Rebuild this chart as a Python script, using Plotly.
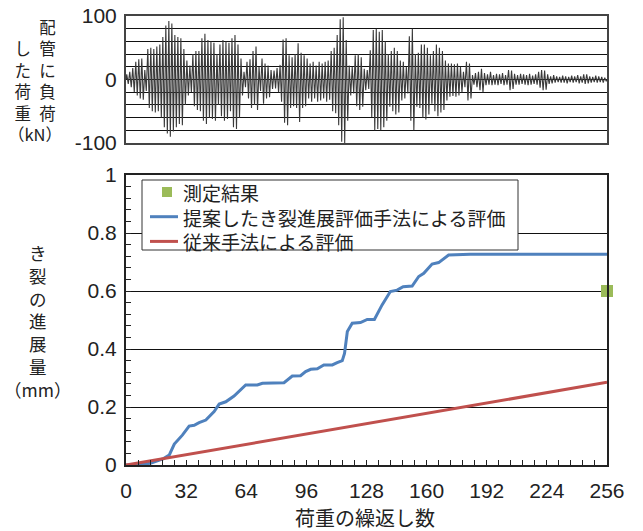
import plotly.graph_objects as go

W, H = 643, 531

# ---- Top panel: load history (peak values per cycle, kN) ----
load_pos = [8, 12, 18, 28, 32, 33, 15, 48, 50, 48,
            52, 55, 67, 85, 92, 88, 70, 67, 65, 48,
            30, 22, 40, 45, 45, 65, 72, 62, 60, 58,
            40, 55, 62, 60, 58, 65, 70, 55, 33, 12,
            28, 32, 45, 52, 20, 33, 25, 22, 15, 14,
            18, 23, 63, 65, 38, 35, 40, 57, 42, 38,
            33, 25, 28, 22, 28, 25, 28, 30, 45, 50,
            70, 95, 98, 62, 22, 20, 38, 40, 35, 17,
            15, 46, 78, 80, 75, 78, 60, 40, 45, 50,
            45, 30, 28, 20, 68, 80, 40, 42, 55, 55,
            50, 38, 45, 55, 50, 45, 30, 25, 25, 24,
            25, 20, 12, 28, 25, 7, 10, 12, 17, 10,
            8, 12, 7, 9, 8, 10, 7, 15, 14, 9,
            7, 9, 8, 7, 9, 6, 8, 12, 15, 14,
            8, 5, 7, 5, 4, 6, 5, 4, 6, 5,
            7, 5, 8, 8, 5, 4, 6, 5, 4, 3]
load_neg = [-7, -12, -20, -25, -30, -32, -18, -45, -50, -52,
            -50, -60, -75, -85, -90, -82, -75, -70, -72, -40,
            -25, -20, -42, -48, -50, -65, -70, -60, -62, -65,
            -40, -58, -65, -62, -50, -75, -78, -60, -25, -12,
            -30, -45, -40, -48, -18, -38, -30, -28, -15, -14,
            -20, -35, -68, -72, -45, -42, -45, -67, -45, -42,
            -30, -35, -30, -35, -33, -30, -35, -32, -50, -53,
            -72, -98, -100, -65, -25, -22, -42, -48, -43, -17,
            -15, -59, -80, -78, -80, -75, -65, -43, -50, -55,
            -52, -33, -30, -22, -65, -80, -43, -45, -60, -63,
            -55, -38, -50, -58, -52, -48, -33, -27, -26, -27,
            -25, -20, -12, -33, -30, -8, -12, -17, -20, -9,
            -8, -9, -8, -9, -7, -9, -8, -17, -15, -8,
            -8, -7, -8, -9, -8, -7, -8, -13, -17, -16,
            -7, -6, -5, -4, -5, -5, -6, -4, -5, -4,
            -6, -5, -7, -6, -5, -4, -5, -4, -5, -3]
load_ticks = [-100, 0, 100]
load_ticktext = ["-100", "0", "100"]

# ---- Bottom panel: crack growth (mm) vs load cycles ----
prop_x = [0, 8, 13, 17, 20, 23, 25.7, 30, 33.6, 36.3, 38.9, 42.5, 46.9, 49.6,
          53.1, 57.5, 60.2, 63.7, 69.9, 72.6, 84.1, 88.5, 92.9, 95.6, 98.3,
          101.8, 105.3, 109.8, 112.4, 115.1, 116.3, 117.8, 120.4, 124.8, 128.4,
          132.2, 136.3, 140.7, 144.3, 147.5, 152.3, 155.8, 158.5, 162.9, 166.4,
          171.7, 183.2, 256]
prop_y = [0, 0.002, 0.006, 0.014, 0.022, 0.034, 0.072, 0.103, 0.134, 0.137,
          0.146, 0.155, 0.184, 0.210, 0.218, 0.238, 0.256, 0.276, 0.276, 0.282,
          0.284, 0.307, 0.308, 0.322, 0.330, 0.332, 0.345, 0.345, 0.353, 0.360,
          0.385, 0.460, 0.489, 0.491, 0.502, 0.502, 0.552, 0.598, 0.603, 0.615,
          0.617, 0.650, 0.661, 0.693, 0.698, 0.724, 0.727, 0.727]
conv_x = [0, 256]
conv_y = [0, 0.285]
meas_x = [256]
meas_y = [0.6]

x_ticks = [0, 32, 64, 96, 128, 160, 192, 224, 256]

names = ["測定結果", "提案したき裂進展評価手法による評価", "従来手法による評価"]
colors = ["#9BBB59", "#4F81BD", "#C0504D"]

# zig-zag load signal from the peak lists
sig_x, sig_y = [0], [0]
for i, (p, n) in enumerate(zip(load_pos, load_neg)):
    sig_x += [i + 0.25, i + 0.75]
    sig_y += [p, n]
sig_x.append(len(load_pos))
sig_y.append(0)

NUM_FONT = "Liberation Sans, Arial, sans-serif"
JP_FONT = "Noto Sans CJK JP, sans-serif"
TXT = "#222222"


def px(x):
    return x / W


def py(y):
    return 1 - y / H


fig = go.Figure()

fig.add_trace(go.Scatter(x=sig_x, y=sig_y, mode="lines",
                         line=dict(color="#3a3a3a", width=1.1),
                         xaxis="x2", yaxis="y2", showlegend=False,
                         hoverinfo="skip"))

fig.add_trace(go.Scatter(x=meas_x, y=meas_y, mode="markers", name=names[0],
                         marker=dict(symbol="square", size=12, color=colors[0]),
                         cliponaxis=False, showlegend=False))
fig.add_trace(go.Scatter(x=prop_x, y=prop_y, mode="lines", name=names[1],
                         line=dict(color=colors[1], width=3), showlegend=False))
fig.add_trace(go.Scatter(x=conv_x, y=conv_y, mode="lines", name=names[2],
                         line=dict(color=colors[2], width=3), showlegend=False))

xdom = [px(126), px(607)]

fig.update_layout(
    width=W, height=H,
    margin=dict(l=0, r=0, t=0, b=0),
    paper_bgcolor="white", plot_bgcolor="white",
    template="none",
    font=dict(family=NUM_FONT, size=21, color=TXT),
    showlegend=False,
    xaxis=dict(domain=xdom, anchor="y", range=[0, 256],
               tickvals=x_ticks, ticks="inside", ticklen=5, tickcolor=TXT,
               minor=dict(dtick=6.4, tick0=0, ticks="inside", ticklen=5, tickcolor=TXT),
               showgrid=False, zeroline=False,
               showline=True, mirror=True, linecolor=TXT, linewidth=2,
               tickfont=dict(size=21, family=NUM_FONT, color=TXT),
               ticklabelstandoff=6, ticklabeloverflow="allow",
               automargin=False),
    yaxis=dict(domain=[py(465), py(175)], anchor="x", range=[0, 1],
               dtick=0.2, tick0=0, ticks="inside", ticklen=5, tickcolor=TXT,
               minor=dict(dtick=0.04, tick0=0, ticks="inside", ticklen=5, tickcolor=TXT),
               showgrid=True, gridcolor="#111111", gridwidth=1,
               zeroline=False,
               showline=True, mirror=True, linecolor=TXT, linewidth=2,
               tickfont=dict(size=21, family=NUM_FONT, color=TXT),
               ticklabelstandoff=3, ticklabeloverflow="allow",
               automargin=False),
    xaxis2=dict(domain=xdom, anchor="y2", range=[0, len(load_pos)],
                showticklabels=False, ticks="", showgrid=False, zeroline=False,
                showline=True, mirror=True, linecolor="#444444", linewidth=2,
                automargin=False),
    yaxis2=dict(domain=[py(143), py(16)], anchor="x2", range=[-100, 100],
                tickvals=load_ticks, ticktext=load_ticktext,
                ticks="", showgrid=True, gridcolor="#111111", gridwidth=1,
                minor=dict(dtick=20, tick0=0, showgrid=True,
                           gridcolor="#111111", gridwidth=1),
                zeroline=False,
                showline=True, mirror=True, linecolor="#444444", linewidth=2,
                tickfont=dict(size=21, family=NUM_FONT, color=TXT),
                ticklabelstandoff=3, ticklabeloverflow="allow",
                automargin=False),
)

annotations = []
shapes = []


def add_text(t, x, y, size=19, anchor="center", align="center"):
    annotations.append(dict(text=t, x=px(x), y=py(y), xref="paper", yref="paper",
                            xanchor=anchor, yanchor="middle", showarrow=False,
                            align=align,
                            font=dict(family=JP_FONT, size=size, color=TXT)))


def vertical(s):
    return "<br>".join(s)


# top y-axis title: two vertical columns (right: 配管に負荷, left: した荷重)
right_col = "配管に負荷"
left_col = "\u3000" + "した荷重"
top_lines = [l + "\u2002" + r for l, r in zip(left_col, right_col)]
add_text("<br>".join(top_lines) + "<br>（kN）", 35, 80.6, 16.5)

# bottom y-axis title (vertical characters, unit on the last line)
add_text(vertical("き裂の進展量") + "<br>（mm）", 37, 321, 17.5)

# x-axis title
add_text("荷重の繰返し数", 365, 517, 20)

# legend box (drawn manually to match the compact layout)
LEG_SIZE = 19
step = LEG_SIZE * 1.3
rows = [192, 192 + step, 192 + 2 * step]
shapes.append(dict(type="rect", xref="paper", yref="paper",
                   x0=px(142), x1=px(518), y0=py(250), y1=py(180),
                   fillcolor="white", line=dict(color="#333333", width=1),
                   layer="above"))
shapes.append(dict(type="rect", xref="paper", yref="paper",
                   x0=px(162), x1=px(172), y0=py(rows[0] + 5), y1=py(rows[0] - 5),
                   fillcolor=colors[0], line=dict(width=0), layer="above"))
for r, c in zip(rows[1:], colors[1:]):
    shapes.append(dict(type="line", xref="paper", yref="paper",
                       x0=px(150), x1=px(178), y0=py(r), y1=py(r),
                       line=dict(color=c, width=3), layer="above"))
add_text("<br>".join(names), 181, rows[1], LEG_SIZE, anchor="left", align="left")

fig.update_layout(annotations=annotations, shapes=shapes)

fig.write_html("out.html",
               config={"displayModeBar": False},
               post_script="document.body.style.margin='0px';")
